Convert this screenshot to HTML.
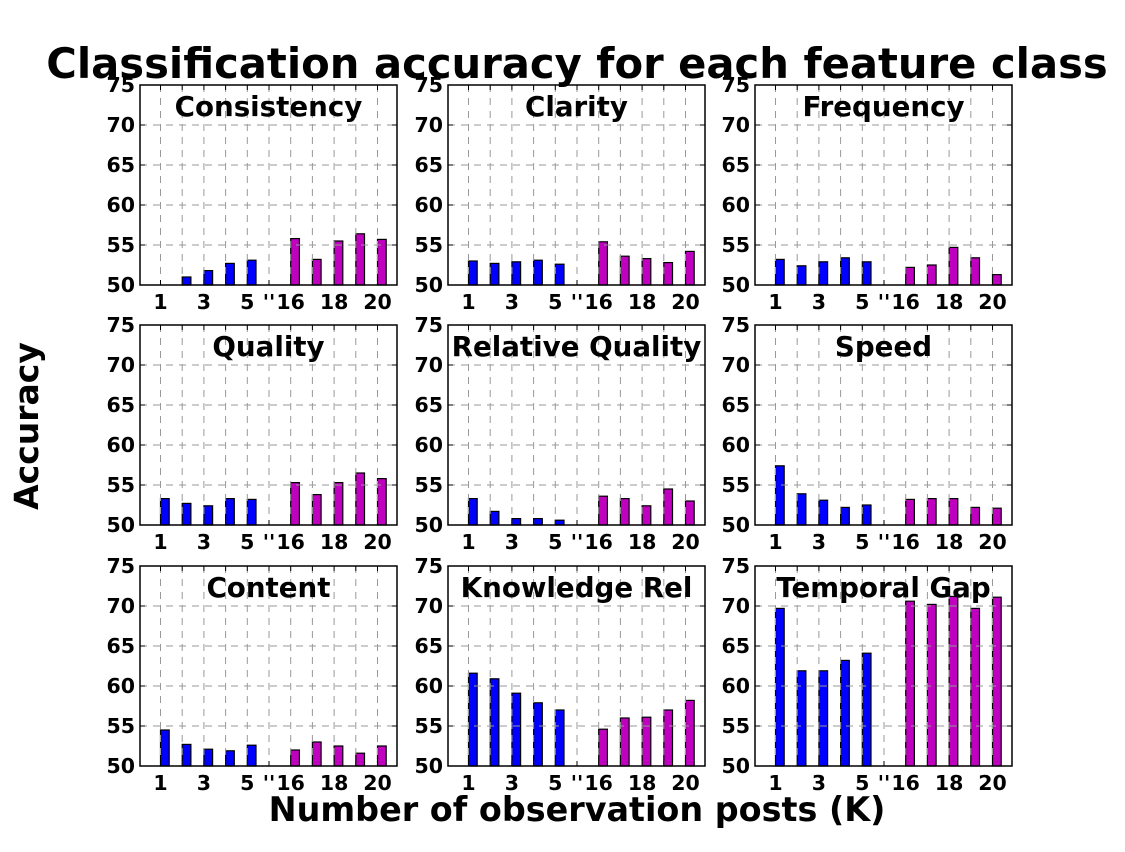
<!DOCTYPE html>
<html><head><meta charset="utf-8">
<style>
html,body{margin:0;padding:0;background:#fff;}
svg{display:block;font-family:"DejaVu Sans","Liberation Sans",sans-serif;font-weight:bold;}
</style></head>
<body>
<svg id="chart" width="1125" height="852" viewBox="0 0 1125 852">
<rect width="1125" height="852" fill="#fff"/>
<text x="577" y="78" font-size="41.7" text-anchor="middle">Classification accuracy for each feature class</text>
<text transform="translate(38,426) rotate(-90)" font-size="33" text-anchor="middle">Accuracy</text>
<text x="577" y="821" font-size="33.4" text-anchor="middle">Number of observation posts (K)</text>
</svg>
<script>
const panelTitles = ["Consistency","Clarity","Frequency","Quality","Relative Quality","Speed","Content","Knowledge Rel","Temporal Gap"];
const tickLabels = ["1","","3","","5","''","16","","18","","20"];
const yTicks = [50,55,60,65,70,75];
const consistency = [50,51.0,51.8,52.7,53.1,55.8,53.2,55.5,56.4,55.7];
const clarity = [53.0,52.7,52.9,53.1,52.6,55.4,53.6,53.3,52.8,54.2];
const frequency = [53.2,52.4,52.9,53.4,52.9,52.2,52.5,54.7,53.4,51.3];
const quality = [53.3,52.7,52.4,53.3,53.2,55.3,53.8,55.3,56.5,55.8];
const relativeQuality = [53.3,51.7,50.8,50.8,50.6,53.6,53.3,52.4,54.5,53.0];
const speed = [57.4,53.9,53.1,52.2,52.5,53.2,53.3,53.3,52.2,52.1];
const content = [54.5,52.7,52.1,51.9,52.6,52.0,53.0,52.5,51.6,52.5];
const knowledgeRel = [61.6,60.9,59.1,57.9,57.0,54.6,56.0,56.1,57.0,58.2];
const temporalGap = [69.7,61.9,61.9,63.2,64.1,70.6,70.2,71.2,69.7,71.1];
const series = [consistency,clarity,frequency,quality,relativeQuality,speed,content,knowledgeRel,temporalGap];

const svg = document.getElementById('chart');
const NS = 'http://www.w3.org/2000/svg';
function mk(tag, attrs, parent){const e=document.createElementNS(NS,tag);for(const k in attrs)e.setAttribute(k,attrs[k]);(parent||svg).appendChild(e);return e;}
const colL=[140,448,755], rowT=[85,325,566], W=257, H=200, step=21.7, off=20.5;
series.forEach((vals,p)=>{
  const L=colL[p%3], T=rowT[Math.floor(p/3)];
  const g=mk('g',{});
  
  
  const yS=v=>T+H-(v-50)/25*H;
  const xS=i=>L+off+i*step;
  vals.forEach((v,i)=>{
    const pos=i<5?i:i+1;
    const y=yS(v);
    const r=mk('rect',{x:xS(pos),y:y,width:8.7,height:Math.max(0,T+H-y),fill:i<5?'#0000ff':'#bf00bf',stroke:'#000','stroke-width':1.2},g);
    
    
  });
  for(let i=0;i<11;i++){
    const l=mk('line',{x1:xS(i),x2:xS(i),y1:T,y2:T+H,stroke:'#999','stroke-width':1,'stroke-dasharray':'7,6'},g);
    
    
    mk('line',{x1:xS(i),x2:xS(i),y1:T+H,y2:T+H-5,stroke:'#000'},g);
    mk('line',{x1:xS(i),x2:xS(i),y1:T,y2:T+5,stroke:'#000'},g);
    if(tickLabels[i]!==''){
      const t=mk('text',{x:xS(i),y:T+H+24,'font-size':20.5,'text-anchor':'middle'},g);
      t.textContent=tickLabels[i];
      
      
    }
  }
  yTicks.forEach(v=>{
    const y=yS(v);
    if(v>50&&v<75){
      const l=mk('line',{x1:L,x2:L+W,y1:y,y2:y,stroke:'#999','stroke-width':1,'stroke-dasharray':'7,6'},g);
      
      
    }
    mk('line',{x1:L,x2:L+5,y1:y,y2:y,stroke:'#000'},g);
    mk('line',{x1:L+W,x2:L+W-5,y1:y,y2:y,stroke:'#000'},g);
    const t=mk('text',{x:L-5,y:y+7,'font-size':20.5,'text-anchor':'end'},g);
    t.textContent=v;
    
    
  });
  const fr=mk('rect',{x:L,y:T,width:W,height:H,fill:'none',stroke:'#000','stroke-width':1.5},g);
  
  
  const tt=mk('text',{x:L+W/2,y:T+31,'font-size':27.7,'text-anchor':'middle'},g);
  tt.textContent=panelTitles[p];
  
  
});
</script>
</body></html>
